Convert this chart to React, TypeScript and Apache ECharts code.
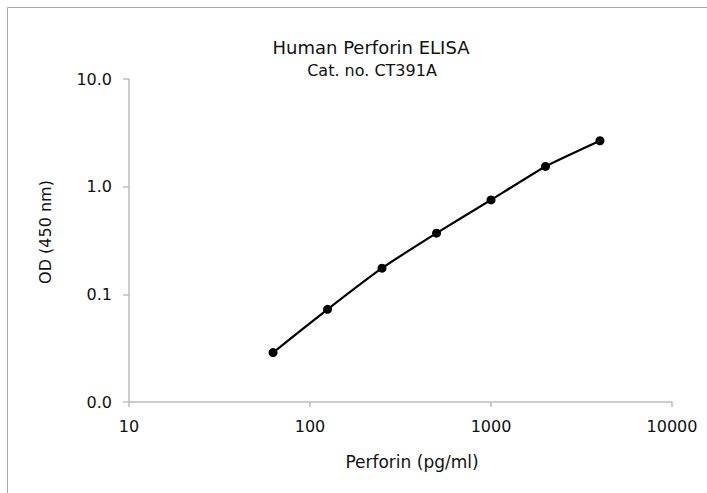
import React, { useEffect, useRef } from "react";
import * as echarts from "echarts";

const concentrations = [62.5, 125, 250, 500, 1000, 2000, 4000];
const odValues = [0.0288, 0.0726, 0.175, 0.37, 0.753, 1.54, 2.67];
const titleText = "Human Perforin ELISA";
const subtitleText = "Cat. no. CT391A";
const xAxisTitle = "Perforin (pg/ml)";
const yAxisTitle = "OD (450 nm)";

const FONT = "'DejaVu Sans', Verdana, sans-serif";
const AXIS_COLOR = "#bcbcbc";
const TEXT_COLOR = "#111";

export default function App() {
  const ref = useRef<HTMLDivElement>(null);
  useEffect(() => {
    if (!ref.current) return;
    const chart = echarts.init(ref.current, undefined, { renderer: "svg" });
    chart.setOption({
      animation: false,
      backgroundColor: "#fff",
      grid: { left: 129, top: 79, right: 35, bottom: 91 },
      xAxis: {
        type: "log",
        logBase: 10,
        min: 10,
        max: 10000,
        axisLine: { show: true, lineStyle: { color: AXIS_COLOR, width: 1.5 } },
        axisTick: { show: true, length: 5, lineStyle: { color: AXIS_COLOR, width: 1.5 } },
        splitLine: { show: false },
        minorTick: { show: false },
        axisLabel: {
          margin: 16,
          color: TEXT_COLOR,
          fontFamily: FONT,
          fontSize: 16,
          formatter: (v: number) => String(Math.round(v)),
        },
      },
      yAxis: {
        type: "log",
        logBase: 10,
        min: 0.01,
        max: 10,
        axisLine: { show: true, lineStyle: { color: AXIS_COLOR, width: 1.5 } },
        axisTick: { show: true, length: 6, lineStyle: { color: AXIS_COLOR, width: 1.5 } },
        splitLine: { show: false },
        axisLabel: {
          margin: 17,
          color: TEXT_COLOR,
          fontFamily: FONT,
          fontSize: 16,
          formatter: (v: number) => v.toFixed(1),
        },
      },
      series: [
        {
          type: "line",
          data: concentrations.map((c, i) => [c, odValues[i]]),
          symbol: "circle",
          symbolSize: 9,
          smooth: 0.15,
          lineStyle: { color: "#000", width: 2.2 },
          itemStyle: { color: "#000" },
        },
      ],
      graphic: [
        {
          type: "rect",
          silent: true,
          shape: { x: 7.5, y: 7.5, width: 900, height: 700 },
          style: { fill: "none", stroke: "#a9a9a9", lineWidth: 1 },
        },
        {
          type: "text",
          x: 371,
          y: 47,
          style: {
            text: titleText,
            fontFamily: FONT,
            fontSize: 18,
            fill: TEXT_COLOR,
            align: "center",
            verticalAlign: "middle",
          },
        },
        {
          type: "text",
          x: 372,
          y: 70,
          style: {
            text: subtitleText,
            fontFamily: FONT,
            fontSize: 16,
            fill: TEXT_COLOR,
            align: "center",
            verticalAlign: "middle",
          },
        },
        {
          type: "text",
          x: 412,
          y: 462,
          style: {
            text: xAxisTitle,
            fontFamily: FONT,
            fontSize: 17,
            fill: TEXT_COLOR,
            align: "center",
            verticalAlign: "middle",
          },
        },
        {
          type: "text",
          x: 45,
          y: 232,
          rotation: Math.PI / 2,
          style: {
            text: yAxisTitle,
            fontFamily: FONT,
            fontSize: 16,
            fill: TEXT_COLOR,
            align: "center",
            verticalAlign: "middle",
          },
        },
      ],
    });
    return () => chart.dispose();
  }, []);
  return (
    <div
      style={{
        position: "fixed",
        left: 0,
        top: 0,
        width: 707,
        height: 493,
        overflow: "hidden",
        background: "#fff",
      }}
    >
      <div ref={ref} style={{ width: 707, height: 493 }} />
    </div>
  );
}
